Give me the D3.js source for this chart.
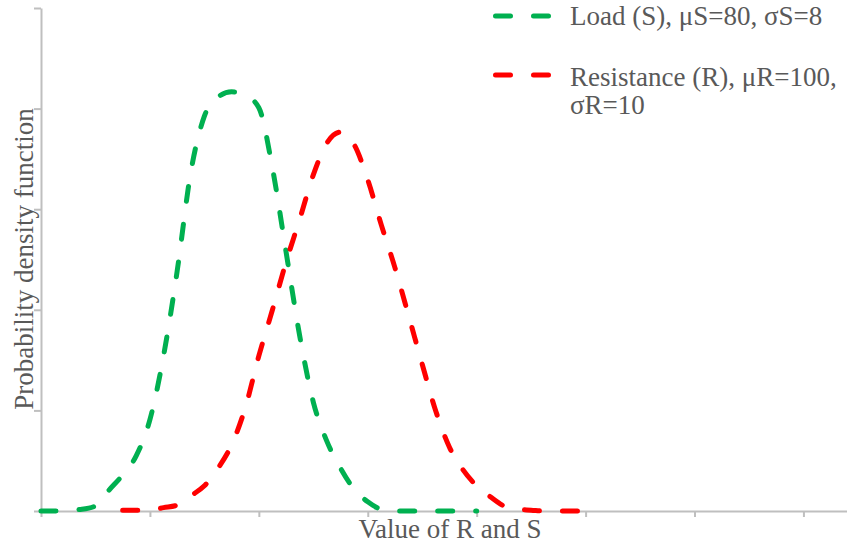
<!DOCTYPE html>
<html>
<head>
<meta charset="utf-8">
<script src="https://cdn.jsdelivr.net/npm/d3@7"></script>
<style>
  body { margin: 0; background: #fff; }
  svg { display: block; }
  text { font-family: 'Liberation Serif', 'Times New Roman', serif; fill: #595959; }
</style>
</head>
<body>
<div id="chart"></div>
<script>
// values
const loadX = [45, 47.5, 50, 52.5, 55, 57.5, 60, 62.5, 65, 67.5, 70, 72.5, 75, 77.5, 80, 82.5, 85, 87.5, 90, 92.5, 95, 97.5, 100, 102.5, 105, 107.5, 110, 112.5, 115, 117.5, 120, 122.5, 125]
const loadY = [0, 0, 0.0001, 0.0002, 0.0006, 0.0025, 0.0043, 0.0066, 0.0109, 0.0185, 0.0286, 0.0404, 0.0471, 0.0494, 0.05, 0.0496, 0.0481, 0.0409, 0.0309, 0.0209, 0.013, 0.0083, 0.0051, 0.0026, 0.0011, 0.0002, 0, 0, 0, 0, 0, 0, 0]

const resistanceX = [60, 62.5, 65, 67.5, 70, 72.5, 75, 77.5, 80, 82.5, 85, 87.5, 90, 92.5, 95, 97.5, 100, 102.5, 105, 107.5, 110, 112.5, 115, 117.5, 120, 122.5, 125, 127.5, 130, 132.5, 135, 137.5, 140, 142.5, 145, 147.5]
const resistanceY = [0.0001, 0.0001, 0.0001, 0.0004, 0.0007, 0.0018, 0.003, 0.0051, 0.0079, 0.0123, 0.0185, 0.024, 0.0297, 0.0348, 0.0401, 0.0439, 0.0452, 0.0437, 0.0395, 0.0341, 0.029, 0.0233, 0.0175, 0.0119, 0.0076, 0.0049, 0.003, 0.0017, 0.0006, 0.0002, 0.0001, 0, 0, 0, 0, 0]

const xTicks = [45, 65, 85, 105, 125, 145, 165, 185]
const yTicks = [0, 0.012, 0.024, 0.036, 0.048, 0.06]

const seriesNames = ['Load (S), \u03bcS=80, \u03c3S=8', 'Resistance (R), \u03bcR=100,', '\u03c3R=10']
const colors = ['#00b050', '#ff0000']

const width = 847
const height = 548
const plot = { left: 41, right: 847, top: 8, bottom: 511 }

const svg = d3.select('#chart')
  .append('svg')
  .attr('width', width)
  .attr('height', height)

const x = d3.scaleLinear()
  .domain([45, 45 + (plot.right - plot.left) / 5.446])
  .range([plot.left, plot.right])

const y = d3.scaleLinear()
  .domain([0, 0.06])
  .range([plot.bottom, plot.top])

const styleAxis = g => {
  g.select('.domain').attr('stroke', '#bfbfbf').attr('stroke-width', 2)
  g.selectAll('.tick line').attr('stroke', '#bfbfbf').attr('stroke-width', 2)
}

svg.append('g')
  .classed('y-axis', true)
  .attr('transform', `translate(${plot.left},0)`)
  .call(d3.axisLeft(y).tickValues(yTicks).tickSize(7).tickSizeOuter(0).tickFormat(''))
  .call(styleAxis)

svg.append('g')
  .classed('x-axis', true)
  .attr('transform', `translate(0,${plot.bottom})`)
  .call(d3.axisBottom(x).tickValues(xTicks).tickSize(6).tickSizeOuter(0).tickFormat(''))
  .call(styleAxis)

const line = d3.line()
  .x(d => x(d[0]))
  .y(d => y(d[1]))
  .curve(d3.curveMonotoneX)

const series = [
  d3.zip(loadX, loadY),
  d3.zip(resistanceX, resistanceY)
]

svg.append('g')
  .classed('curves', true)
  .selectAll('path')
  .data(series)
  .enter()
  .append('path')
  .attr('d', line)
  .attr('fill', 'none')
  .attr('stroke', (d, i) => colors[i])
  .attr('stroke-width', 5)
  .attr('stroke-linecap', 'round')
  .attr('stroke-dasharray', '15,23')

// legend
const legend = svg.append('g').classed('legend', true)
const legendRows = [
  { y: 16, color: colors[0], lines: [seriesNames[0]], baseline: 25 },
  { y: 75, color: colors[1], lines: [seriesNames[1], seriesNames[2]], baseline: 86 }
]
legendRows.forEach(row => {
  legend.append('line')
    .attr('x1', 495.5)
    .attr('x2', 550)
    .attr('y1', row.y)
    .attr('y2', row.y)
    .attr('stroke', row.color)
    .attr('stroke-width', 5)
    .attr('stroke-linecap', 'round')
    .attr('stroke-dasharray', '15,23')
  row.lines.forEach((t, i) => {
    legend.append('text')
      .attr('x', 570)
      .attr('y', row.baseline + i * 28)
      .style('font-size', '27px')
      .text(t)
  })
})

// axis titles
svg.append('text')
  .attr('x', 450)
  .attr('y', 538)
  .attr('text-anchor', 'middle')
  .style('font-size', '27px')
  .text('Value of R and S')

svg.append('text')
  .attr('transform', 'translate(33,259) rotate(-90)')
  .attr('text-anchor', 'middle')
  .style('font-size', '27px')
  .text('Probability density function')
</script>
</body>
</html>
